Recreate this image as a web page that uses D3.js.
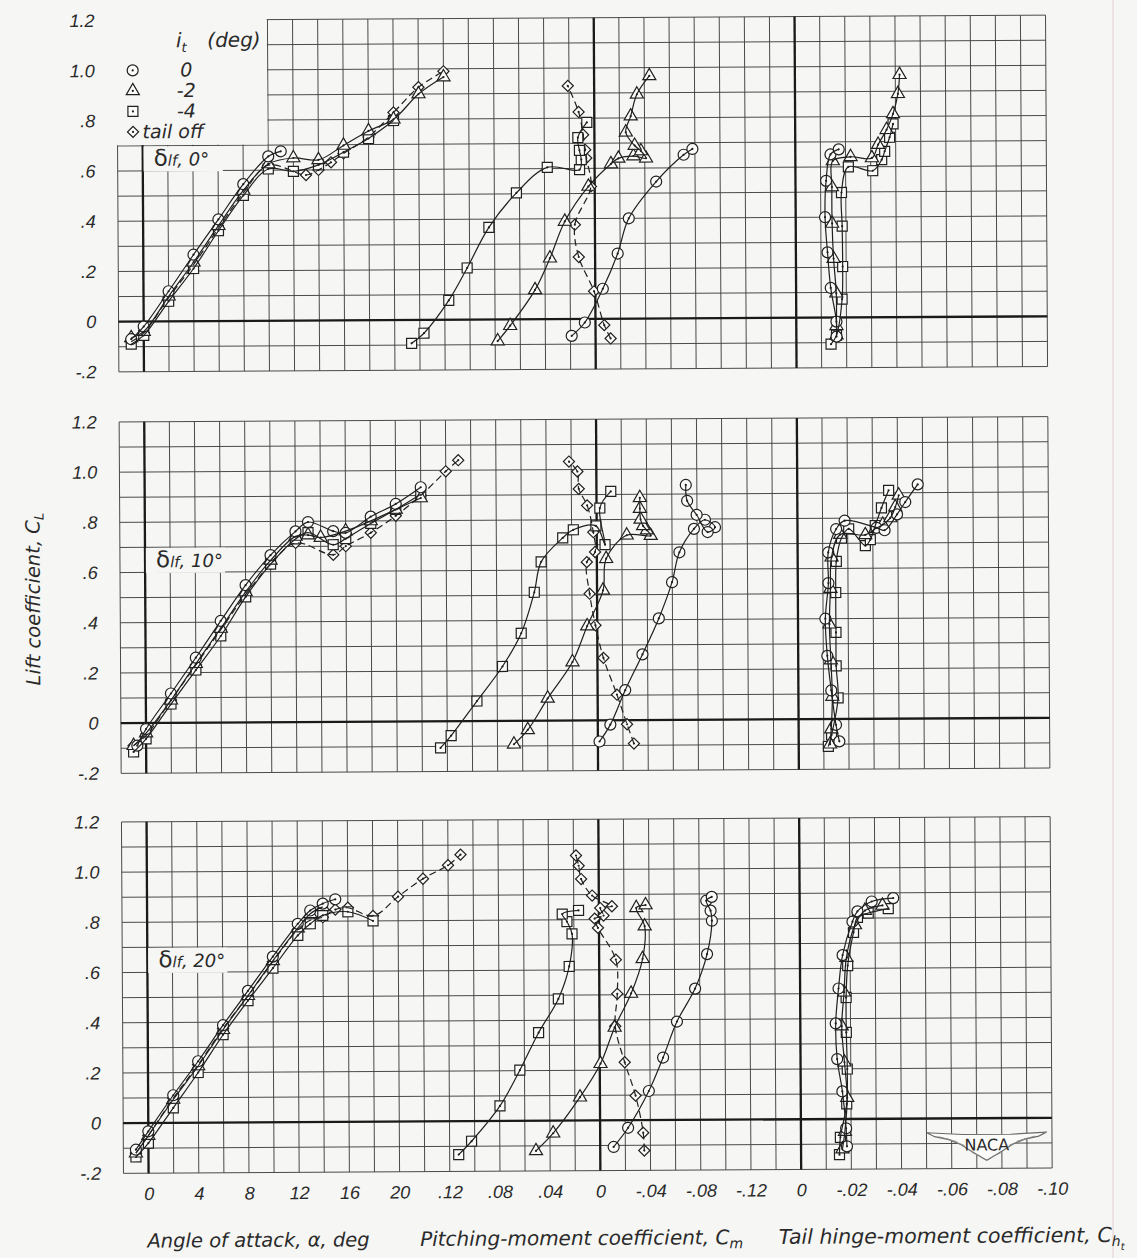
<!DOCTYPE html>
<html>
<head>
<meta charset="utf-8">
<script src="https://cdn.jsdelivr.net/npm/d3@7"></script>
<style>
body { margin: 0; background: #f6f6f4; }
svg { display: block; }
text { font-family: "DejaVu Sans", sans-serif; font-style: italic; fill: #2a2a2a; }
.num { font-family: "Liberation Sans Narrow", "Liberation Sans", sans-serif; font-style: italic; font-size: 18px; }
</style>
</head>
<body>
<div id="chart"></div>
<script>
// ---- data: [x, CL] pairs ----
// panel 1, flap 0 deg
var p1AlphaCirc = [[-1,-0.07],[0,-0.02],[2,0.12],[4,0.265],[6,0.405],[8,0.545],[10,0.655],[11,0.675]];
var p1AlphaTri = [[-1,-0.065],[0,-0.04],[2,0.10],[4,0.235],[6,0.38],[8,0.52],[10,0.625],[12,0.648],[14,0.64],[16,0.697],[18,0.754],[20,0.80],[22,0.90],[24,0.967]];
var p1AlphaSq = [[-1,-0.09],[0,-0.055],[2,0.08],[4,0.21],[6,0.36],[8,0.50],[10,0.605],[12,0.595],[14,0.62],[16,0.67],[18,0.724],[20,0.795]];
var p1AlphaDia = [[-1,-0.08],[0,-0.045],[2,0.095],[4,0.225],[6,0.37],[8,0.51],[10,0.62],[13,0.58],[14,0.60],[15,0.63],[16,0.665],[18,0.73],[20,0.827],[22,0.927],[24,0.99]];
var p1CmCirc = [[0.019,-0.067],[0.0085,-0.014],[-0.006,0.12],[-0.018,0.26],[-0.027,0.40],[-0.049,0.546],[-0.071,0.652],[-0.078,0.675]];
var p1CmTri = [[0.078,-0.086],[0.068,-0.025],[0.048,0.117],[0.036,0.243],[0.024,0.389],[0.005,0.528],[-0.013,0.617],[-0.019,0.639],[-0.031,0.648],[-0.041,0.639],[-0.037,0.668],[-0.032,0.69],[-0.025,0.743],[-0.029,0.807],[-0.034,0.894],[-0.044,0.967]];
var p1CmSq = [[0.1466,-0.093],[0.1367,-0.053],[0.1168,0.077],[0.102,0.206],[0.0845,0.367],[0.0624,0.504],[0.0377,0.605],[0.012,0.595],[0.0106,0.635],[0.012,0.672],[0.0132,0.723],[0.006,0.783]];
var p1CmDia = [[-0.012,-0.078],[-0.007,-0.025],[0.001,0.11],[0.013,0.247],[0.016,0.376],[0.003,0.528],[0.0066,0.641],[0.0074,0.674],[0.009,0.734],[0.0125,0.825],[0.021,0.929]];
var p1ChCirc = [[-0.016,-0.076],[-0.016,-0.016],[-0.0138,0.118],[-0.0126,0.26],[-0.0117,0.40],[-0.0122,0.545],[-0.014,0.65],[-0.0173,0.67]];
var p1ChTri = [[-0.016,-0.07],[-0.016,-0.033],[-0.016,0.097],[-0.015,0.235],[-0.0145,0.375],[-0.0145,0.52],[-0.0149,0.624],[-0.022,0.64],[-0.0305,0.635],[-0.033,0.688],[-0.0364,0.747],[-0.039,0.81],[-0.041,0.89],[-0.0417,0.966]];
var p1ChSq = [[-0.0138,-0.106],[-0.016,-0.07],[-0.0183,0.073],[-0.0186,0.203],[-0.0185,0.364],[-0.0183,0.498],[-0.0211,0.60],[-0.0308,0.584],[-0.0344,0.628],[-0.0356,0.661],[-0.0376,0.717],[-0.039,0.77]];

// panel 2, flap 10 deg
var p2AlphaCirc = [[-0.7,-0.09],[0,-0.024],[2,0.117],[4,0.259],[6,0.405],[8,0.547],[10,0.666],[12,0.76],[13,0.797],[15,0.76],[16,0.753],[18,0.817],[20,0.867],[22,0.933]];
var p2AlphaTri = [[-1,-0.09],[0,-0.04],[2,0.09],[4,0.235],[6,0.375],[8,0.52],[10,0.645],[12,0.74],[13,0.745],[14,0.735],[16,0.76],[18,0.80],[20,0.845],[22,0.89]];
var p2AlphaSq = [[-1,-0.115],[0,-0.063],[2,0.075],[4,0.21],[6,0.345],[8,0.50],[10,0.63],[12,0.73],[13,0.755],[15,0.706],[16,0.73],[18,0.79],[20,0.845],[22,0.905]];
var p2AlphaDia = [[-1,-0.09],[0,-0.05],[2,0.09],[4,0.23],[6,0.37],[8,0.51],[10,0.63],[12,0.714],[15,0.666],[16,0.70],[18,0.753],[20,0.82],[22,0.90],[24,0.996],[25,1.04]];
var p2CmCirc = [[-0.0013,-0.084],[-0.010,-0.017],[-0.022,0.12],[-0.0359,0.262],[-0.0491,0.405],[-0.0598,0.549],[-0.0658,0.668],[-0.0775,0.761],[-0.0863,0.797],[-0.0943,0.767],[-0.0884,0.748],[-0.0797,0.817],[-0.0722,0.873],[-0.0712,0.936]];
var p2CmTri = [[0.0669,-0.093],[0.0558,-0.036],[0.0398,0.089],[0.0199,0.233],[0.008,0.376],[-0.0048,0.518],[-0.0074,0.644],[-0.0239,0.737],[-0.043,0.735],[-0.040,0.757],[-0.037,0.774],[-0.035,0.80],[-0.0345,0.843],[-0.0345,0.886]];
var p2CmSq = [[0.1254,-0.106],[0.1169,-0.057],[0.0962,0.08],[0.0757,0.217],[0.0606,0.349],[0.05,0.512],[0.0444,0.633],[0.0271,0.728],[0.0186,0.76],[0.0006,0.775],[-0.0066,0.70],[-0.0026,0.846],[-0.0114,0.912]];
var p2CmDia = [[-0.0287,-0.093],[-0.0233,-0.016],[-0.0154,0.102],[-0.0048,0.249],[0.0014,0.379],[0.0059,0.505],[0.008,0.631],[0.0014,0.671],[0.0027,0.75],[0.0075,0.857],[0.0141,0.923],[0.0151,0.992],[0.0218,1.032]];
var p2ChCirc = [[-0.0162,-0.089],[-0.0149,-0.023],[-0.0131,0.114],[-0.0116,0.252],[-0.0109,0.40],[-0.0122,0.542],[-0.0122,0.664],[-0.0154,0.757],[-0.0188,0.79],[-0.0315,0.761],[-0.0347,0.751],[-0.0397,0.814],[-0.043,0.863],[-0.048,0.933]];
var p2ChTri = [[-0.0125,-0.10],[-0.013,-0.04],[-0.0135,0.09],[-0.013,0.235],[-0.0125,0.378],[-0.013,0.52],[-0.0135,0.645],[-0.017,0.735],[-0.027,0.733],[-0.031,0.757],[-0.034,0.774],[-0.037,0.80],[-0.039,0.843],[-0.0404,0.89]];
var p2ChSq = [[-0.0118,-0.109],[-0.0131,-0.063],[-0.0158,0.084],[-0.0151,0.212],[-0.0151,0.345],[-0.0151,0.504],[-0.0154,0.628],[-0.0175,0.721],[-0.0204,0.757],[-0.027,0.69],[-0.029,0.714],[-0.031,0.77],[-0.0335,0.84],[-0.0364,0.91]];

// panel 3, flap 20 deg
var p3AlphaCirc = [[-1,-0.106],[0,-0.033],[2,0.11],[4,0.245],[6,0.388],[8,0.524],[10,0.66],[12,0.79],[13,0.843],[14,0.87],[15,0.887]];
var p3AlphaTri = [[-1,-0.12],[0,-0.05],[2,0.093],[4,0.226],[6,0.37],[8,0.505],[10,0.643],[12,0.773],[13,0.83],[14,0.857]];
var p3AlphaSq = [[-1,-0.135],[0,-0.08],[2,0.06],[4,0.20],[6,0.35],[8,0.485],[10,0.614],[12,0.744],[13,0.79],[14,0.823],[16,0.837],[18,0.80]];
var p3AlphaDia = [[-1,-0.12],[0,-0.05],[2,0.098],[4,0.231],[6,0.375],[8,0.504],[10,0.64],[12,0.767],[13,0.804],[14,0.816],[15,0.846],[16,0.853],[18,0.82],[20,0.896],[22,0.967],[24,1.02],[25,1.062]];
var p3CmCirc = [[-0.0107,-0.106],[-0.0223,-0.03],[-0.039,0.116],[-0.0505,0.249],[-0.0617,0.392],[-0.0763,0.523],[-0.086,0.66],[-0.090,0.793],[-0.089,0.833],[-0.0856,0.873],[-0.090,0.888]];
var p3CmTri = [[0.0512,-0.12],[0.0374,-0.05],[0.0159,0.093],[-0.0006,0.226],[-0.012,0.37],[-0.0253,0.505],[-0.0346,0.643],[-0.0364,0.773],[-0.0298,0.846],[-0.0372,0.857]];
var p3CmSq = [[0.1128,-0.133],[0.1025,-0.08],[0.0797,0.06],[0.0637,0.202],[0.0486,0.351],[0.0327,0.485],[0.0239,0.614],[0.0215,0.744],[0.0255,0.793],[0.0292,0.823],[0.0162,0.837]];
var p3CmDia = [[-0.0351,-0.121],[-0.0343,-0.05],[-0.0284,0.098],[-0.0199,0.231],[-0.0125,0.375],[-0.0143,0.504],[-0.0133,0.64],[0.0008,0.767],[0.0034,0.804],[-0.0037,0.816],[-0.0011,0.846],[-0.0104,0.853],[0.0053,0.896],[0.014,0.962],[0.0159,1.015],[0.018,1.056]];
var p3ChCirc = [[-0.0183,-0.109],[-0.018,-0.037],[-0.0166,0.11],[-0.0146,0.239],[-0.0141,0.381],[-0.0153,0.52],[-0.017,0.653],[-0.021,0.786],[-0.023,0.827],[-0.0287,0.866],[-0.0373,0.879]];
var p3ChTri = [[-0.0165,-0.12],[-0.0175,-0.05],[-0.0185,0.085],[-0.0175,0.226],[-0.0165,0.37],[-0.0175,0.505],[-0.0185,0.643],[-0.022,0.773],[-0.026,0.83],[-0.033,0.85]];
var p3ChSq = [[-0.0153,-0.142],[-0.0157,-0.073],[-0.0183,0.06],[-0.0186,0.199],[-0.0183,0.345],[-0.0183,0.484],[-0.019,0.611],[-0.0214,0.743],[-0.023,0.803],[-0.0273,0.82],[-0.0353,0.837]];

var flapLabels = ["0°", "10°", "20°"];
var legendLabels = ["0", "-2", "-4", "tail off"];
var yTicks = [-0.2, 0, 0.2, 0.4, 0.6, 0.8, 1.0, 1.2];
var alphaTicks = [0, 4, 8, 12, 16, 20];
var cmTicks = [0.12, 0.08, 0.04, 0, -0.04, -0.08, -0.12];
var chTicks = [0, -0.02, -0.04, -0.06, -0.08, -0.10];

var panels = [
    { flap: flapLabels[0], zero: 319,
      alpha: { circ: p1AlphaCirc, tri: p1AlphaTri, sq: p1AlphaSq, dia: p1AlphaDia },
      cm: { circ: p1CmCirc, tri: p1CmTri, sq: p1CmSq, dia: p1CmDia },
      ch: { circ: p1ChCirc, tri: p1ChTri, sq: p1ChSq } },
    { flap: flapLabels[1], zero: 720.5,
      alpha: { circ: p2AlphaCirc, tri: p2AlphaTri, sq: p2AlphaSq, dia: p2AlphaDia },
      cm: { circ: p2CmCirc, tri: p2CmTri, sq: p2CmSq, dia: p2CmDia },
      ch: { circ: p2ChCirc, tri: p2ChTri, sq: p2ChSq } },
    { flap: flapLabels[2], zero: 1120.5,
      alpha: { circ: p3AlphaCirc, tri: p3AlphaTri, sq: p3AlphaSq, dia: p3AlphaDia },
      cm: { circ: p3CmCirc, tri: p3CmTri, sq: p3CmSq, dia: p3CmDia },
      ch: { circ: p3ChCirc, tri: p3ChTri, sq: p3ChSq } }
];

var width = 1137, height = 1258;
var cell = 25.1, gx0 = 120.3;
var ink = "#202020";

var svg = d3.select("#chart").append("svg")
    .attr("width", width)
    .attr("height", height);

svg.append("rect").attr("width", width).attr("height", height).attr("fill", "#f6f6f4");
// scan edge
svg.append("line").attr("x1", 1113).attr("x2", 1113).attr("y1", 0).attr("y2", height)
    .attr("stroke", "#eadcdc").attr("stroke-width", 1.5);

var page = svg.append("g").attr("transform", "rotate(-0.33,583,620)");
var defs = svg.append("defs");

var xCol = d3.scaleLinear().domain([0, 37]).range([gx0, gx0 + 37 * cell]);

function numFmt(digits) {
    return function (v) {
        if (Math.abs(v) < 1e-9) return "0";
        return v.toFixed(digits).replace(/^(-?)0\./, "$1.");
    };
}

function marker(g, kind, x, y) {
    var m = g.append("g").attr("transform", "translate(" + x + "," + y + ")");
    if (kind === "circ") m.append("circle").attr("r", 5.5);
    else if (kind === "tri") m.append("path").attr("d", d3.symbol(d3.symbolTriangle, 74)());
    else if (kind === "sq") m.append("rect").attr("x", -5).attr("y", -5).attr("width", 10).attr("height", 10);
    else m.append("path").attr("d", d3.symbol(d3.symbolSquare, 62)()).attr("transform", "rotate(45)");
    m.selectAll("circle,path,rect")
        .attr("fill", "#fbfbfa")
        .attr("stroke", ink)
        .attr("stroke-width", 1.2);
    m.append("circle").attr("r", 1.1).attr("fill", ink);
}

panels.forEach(function (p, i) {
    var top = p.zero - 12 * cell, bottom = p.zero + 2 * cell;
    var y = d3.scaleLinear().domain([-0.2, 1.2]).range([bottom, top]);
    var xA = d3.scaleLinear().domain([-2, 24]).range([xCol(0), xCol(13)]);
    var xM = d3.scaleLinear().domain([0.12, -0.12]).range([xCol(13), xCol(25)]);
    var xH = d3.scaleLinear().domain([0, -0.10]).range([xCol(27), xCol(37)]);

    // blank areas of the grid paper (legend, flap label)
    var mask = defs.append("mask").attr("id", "m" + i).attr("maskUnits", "userSpaceOnUse")
        .attr("x", 0).attr("y", 0).attr("width", width).attr("height", height);
    mask.append("rect").attr("width", width).attr("height", height).attr("fill", "white");
    if (i === 0) {
        mask.append("rect").attr("x", xCol(0) - 3).attr("y", top - 3)
            .attr("width", 6 * cell + 2.3).attr("height", 5 * cell + 2.3).attr("fill", "black");
    }
    mask.append("rect").attr("x", xCol(1) + 0.8).attr("y", top + 5 * cell + 0.7)
        .attr("width", 3 * cell + 4).attr("height", cell).attr("fill", "black");

    var grid = page.append("g").attr("mask", "url(#m" + i + ")");
    grid.selectAll(".v").data(d3.range(38)).enter().append("line")
        .attr("x1", function (d) { return xCol(d); }).attr("x2", function (d) { return xCol(d); })
        .attr("y1", top).attr("y2", bottom)
        .attr("stroke", "#404040").attr("stroke-width", 0.95);
    grid.selectAll(".h").data(d3.range(15)).enter().append("line")
        .attr("x1", xCol(0)).attr("x2", xCol(37))
        .attr("y1", function (d) { return y(-0.2 + d * 0.1); })
        .attr("y2", function (d) { return y(-0.2 + d * 0.1); })
        .attr("stroke", "#404040").attr("stroke-width", 0.95);
    [xA(0), xM(0), xH(0)].forEach(function (x) {
        grid.append("line").attr("x1", x).attr("x2", x).attr("y1", top).attr("y2", bottom)
            .attr("stroke", "#1a1a1a").attr("stroke-width", 2.3);
    });
    grid.append("line").attr("x1", xCol(0)).attr("x2", xCol(37)).attr("y1", y(0)).attr("y2", y(0))
        .attr("stroke", "#1a1a1a").attr("stroke-width", 2.3);

    // y tick labels
    page.append("g")
        .attr("transform", "translate(98,0)")
        .call(d3.axisLeft(y).tickValues(yTicks).tickFormat(numFmt(1)).tickSize(0).tickPadding(0))
        .call(function (g) { g.select(".domain").remove(); })
        .selectAll("text").attr("class", "num").attr("fill", "#2a2a2a").style("font-size", "18px");

    // curves and symbols
    var plots = [[xA, p.alpha], [xM, p.cm], [xH, p.ch]];
    var marks = page.append("g");
    plots.forEach(function (pl) {
        var xs = pl[0], set = pl[1];
        var line = d3.line()
            .x(function (d) { return xs(d[0]); })
            .y(function (d) { return y(d[1]); })
            .curve(d3.curveCatmullRom.alpha(0.5));
        ["circ", "tri", "sq", "dia"].forEach(function (k) {
            if (!set[k]) return;
            page.append("path").datum(set[k])
                .attr("d", line)
                .attr("fill", "none")
                .attr("stroke", ink)
                .attr("stroke-width", 1.2)
                .attr("stroke-dasharray", k === "dia" ? "7,4" : null);
        });
        ["dia", "sq", "tri", "circ"].forEach(function (k) {
            if (!set[k]) return;
            set[k].forEach(function (d) { marker(marks, k, xs(d[0]), y(d[1])); });
        });
    });

    // flap deflection label
    var fl = page.append("text").attr("x", xCol(1) + 11).attr("y", top + 5 * cell + 20);
    fl.append("tspan").style("font-size", "23px").style("font-style", "normal").text("δ");
    fl.append("tspan").style("font-size", "15px").text("lf");
    fl.append("tspan").style("font-size", "18px").text(", " + p.flap);

    if (i === 0) {
        var lg = page.append("g");
        var head = lg.append("text").attr("x", xCol(2.35)).attr("y", top + 27).style("font-size", "20px");
        head.append("tspan").text("i");
        head.append("tspan").style("font-size", "13px").attr("dy", 5).text("t");
        head.append("tspan").attr("dy", -5).attr("x", xCol(3.6)).text("(deg)");
        ["circ", "tri", "sq", "dia"].forEach(function (k, j) {
            var ly = top + 50 + j * 20.5;
            marker(lg, k, xCol(0.62), ly);
            lg.append("text")
                .attr("x", j < 3 ? xCol(2.75) : xCol(1.0))
                .attr("y", ly + 6.5)
                .attr("text-anchor", j < 3 ? "middle" : "start")
                .style("font-size", "19px")
                .text(legendLabels[j]);
        });
    }

    if (i === 2) {
        var axG = page.append("g").attr("transform", "translate(0," + (bottom + 14) + ")");
        [[xA, alphaTicks, function (v) { return String(v); }],
         [xM, cmTicks, numFmt(2)],
         [xH, chTicks, numFmt(2)]].forEach(function (a) {
            axG.append("g")
                .call(d3.axisBottom(a[0]).tickValues(a[1]).tickFormat(a[2]).tickSize(0).tickPadding(0))
                .call(function (g) { g.select(".domain").remove(); })
                .selectAll("text").attr("class", "num").attr("fill", "#2a2a2a").style("font-size", "18px");
        });

        // NACA wings
        var nx = xCol(34.4), ny = bottom - 36;
        var wing = page.append("g").attr("transform", "translate(" + nx + "," + ny + ")");
        wing.append("path")
            .attr("d", "M-60,0 L-24,2 L24,2 L60,0 L52,4 L38,7 L26,12 L15,19 L5,25 L0,28 L-5,25 L-15,19 L-26,12 L-38,7 L-52,4 Z")
            .attr("fill", "#fbfbfa").attr("stroke", "#6a6a6a").attr("stroke-width", 1.2);
        wing.append("path")
            .attr("d", "M-48,4 L-30,9 M-40,6 L-22,13 M48,4 L30,9 M40,6 L22,13 M-15,20 L-6,24 M15,20 L6,24")
            .attr("stroke", "#8a8a8a").attr("stroke-width", 0.8).attr("fill", "none");
        wing.append("text").attr("x", 0).attr("y", 18).attr("text-anchor", "middle")
            .style("font-style", "normal").style("font-size", "16px").attr("fill", "#3a3a3a").text("NACA");
    }
});

// axis titles
var titleY = 1245;
page.append("text").attr("x", 255).attr("y", titleY).attr("text-anchor", "middle")
    .style("font-size", "19.5px").text("Angle of attack, α, deg");
var tm = page.append("text").attr("x", 578).attr("y", titleY).attr("text-anchor", "middle").style("font-size", "20px");
tm.append("tspan").text("Pitching-moment coefficient, C");
tm.append("tspan").style("font-size", "14px").attr("dy", 4).text("m");
var th = page.append("text").attr("x", 948).attr("y", titleY).attr("text-anchor", "middle").style("font-size", "20.5px");
th.append("tspan").text("Tail hinge-moment coefficient, C");
th.append("tspan").style("font-size", "14px").attr("dy", 4).text("h");
th.append("tspan").style("font-size", "10px").attr("dy", 4).text("t");

var yl = page.append("text").attr("transform", "translate(40,596) rotate(-90)")
    .attr("text-anchor", "middle").style("font-size", "19.5px");
yl.append("tspan").text("Lift coefficient, C");
yl.append("tspan").style("font-size", "13px").attr("dy", 4).text("L");
</script>
</body>
</html>
